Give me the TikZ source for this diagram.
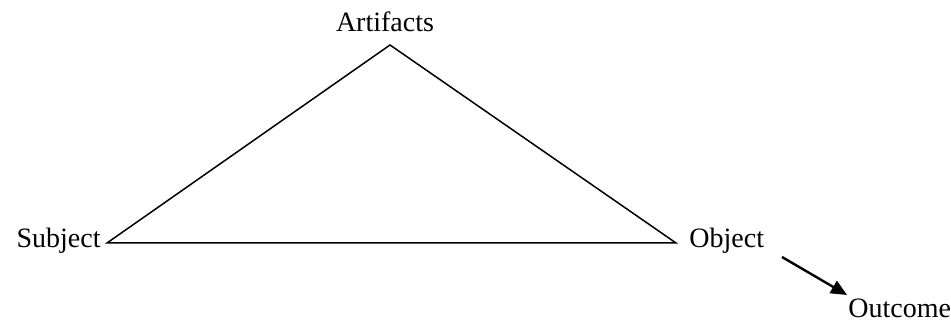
\documentclass[tikz,border=0pt]{standalone}
\usepackage{fontspec}
\setmainfont{Liberation Serif}
\usepackage{tikz}
\usetikzlibrary{arrows.meta,positioning}

\begin{document}
\begin{tikzpicture}[x=0.5pt, y=-0.5pt, >={Triangle[length=8pt,width=7pt]},
    label/.style={inner sep=0pt, font=\fontsize{14}{16}\selectfont}]
    \useasboundingbox (0,0) rectangle (951,324);
    % corners of the triangle
    \coordinate (art) at (390,45);
    \coordinate (sub) at (107,243);
    \coordinate (obj) at (676,243);
    \draw[line width=0.75pt] (sub) -- (art) -- (obj) -- cycle;
    \node[label, anchor=base] (artlab) at (385,32) {Artifacts};
    \node[label, anchor=base east] (sublab) at (101,248) {Subject};
    \node[label, anchor=base west] (objlab) at (689,248) {Object};
    \node[label, anchor=base west] (outlab) at (848,318) {Outcome};
    % outcome arrow
    \coordinate (from) at (782,257);
    \coordinate (to) at (847,295);
    \draw[->, line width=1.2pt] (from) -- (to);
\end{tikzpicture}
\end{document}
